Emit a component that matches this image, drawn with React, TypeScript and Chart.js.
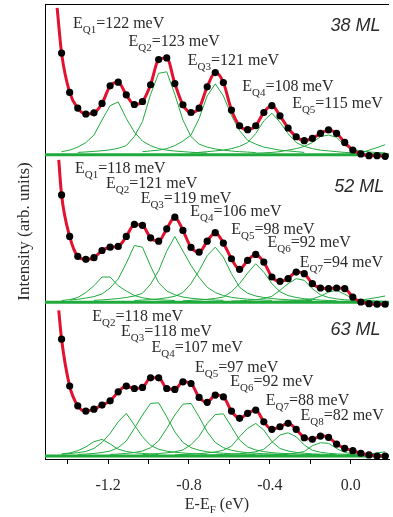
import React, { useEffect, useRef } from 'react';
import { Chart, registerables } from 'chart.js';

Chart.register(...registerables);

// Energy grid (eV) of the measured points
const X = [-1.43, -1.39, -1.35, -1.31, -1.27, -1.23, -1.19, -1.15, -1.11, -1.07, -1.03, -0.99, -0.95, -0.91, -0.87, -0.83, -0.79, -0.75, -0.71, -0.67, -0.63, -0.59, -0.55, -0.51, -0.47, -0.43, -0.39, -0.35, -0.31, -0.27, -0.23, -0.19, -0.15, -0.11, -0.07, -0.03, 0.01, 0.05, 0.09, 0.13, 0.17];

const XMIN = -1.512;
const XMAX = 0.189;
const X_TICKS = [-1.4, -1.2, -1.0, -0.8, -0.6, -0.4, -0.2, 0.0];
const X_LABELLED = [-1.2, -0.8, -0.4, 0.0];

const PANEL_NAMES = ['38 ML', '52 ML', '63 ML'];
const PANEL_OFFSETS = [2.0, 1.02, 0];
const PANEL_NAME_X = [0.147, 0.166, 0.147];
const PANEL_NAME_Y = [82.1, 73.0, 80.1];

// Measured intensities (arb. units, 0 = panel baseline)
const D38 = [67.4, 41.3, 30.9, 27.0, 27.8, 34.0, 45.7, 48.1, 39.7, 33.3, 35.3, 46.4, 63.1, 64.2, 47.2, 33.1, 28.0, 30.9, 45.0, 54.5, 47.9, 29.6, 19.2, 16.6, 19.2, 28.0, 32.6, 25.8, 17.7, 11.9, 9.3, 10.8, 14.1, 16.4, 14.1, 8.1, 3.1, 0.5, -0.7, -0.7, -1.1];
const D52 = [71.3, 43.7, 30.5, 28.5, 29.6, 34.4, 36.6, 37.1, 43.7, 51.7, 51.0, 42.8, 40.6, 48.8, 56.5, 47.7, 36.4, 33.3, 40.6, 46.2, 39.3, 28.9, 21.9, 27.8, 31.8, 26.7, 16.8, 13.9, 15.7, 20.1, 19.0, 12.4, 9.5, 9.1, 9.5, 9.1, 3.5, 0.2, -0.9, -1.3, -1.3];
const D63 = [77.5, 46.4, 33.3, 29.8, 31.1, 33.8, 36.6, 42.6, 46.4, 44.8, 45.5, 51.9, 51.9, 44.8, 44.2, 49.2, 48.1, 38.9, 35.6, 40.4, 39.3, 29.8, 25.0, 28.3, 30.5, 22.7, 17.7, 19.4, 21.7, 17.7, 12.1, 11.1, 13.2, 12.4, 7.9, 5.1, 3.5, 1.8, 0.7, 0, 0];
const DATA = [D38, D52, D63];

// Start of the fit curve (left of the first point)
const FIT_START_X = [-1.452, -1.444, -1.444];
const FIT_START_I = [97.4, 94.5, 96.7];

// Fit components: first grid index + values on the grid
const COMP38 = [
  { from: 0, v: [2, 3, 5, 8, 13, 23, 32.5, 35, 24, 15, 9, 6, 4, 3, 2.4, 2, 1.6, 1.3, 1] },
  { from: 2, v: [1.5, 1.8, 2.2, 2.6, 3.2, 4.2, 6, 12, 22, 40, 54, 55, 40, 23, 12, 7, 5, 3.8, 3, 2.4, 2, 1.7, 1.4] },
  { from: 10, v: [2, 2.5, 3, 4, 6, 9, 13, 24, 39, 47, 39, 26, 16, 9.5, 7, 5, 4, 3, 2.5, 2, 1.5] },
  { from: 16, v: [1, 1.5, 2, 2.5, 3, 4, 5.5, 8, 14, 22.5, 27.5, 21.5, 14, 8, 5.5, 4, 3, 2.5, 2, 1.5, 1.2] },
  { from: 24, v: [1, 1.2, 1.5, 2, 3, 4, 5.5, 8, 12, 13, 11.5, 6, 3.5, 2.5, 1.8, 1.4, 1.2] },
  { from: 35, v: [0, 0.3, 1.2, 3, 4.7, 6.6] },
];
const COMP52 = [
  { from: 0, v: [1.2, 1.8, 3.2, 6.5, 11, 16.8, 16.8, 11, 7.5, 4.5, 3, 2.2, 1.7, 1.4, 1.2] },
  { from: 1, v: [1.5, 2, 2.8, 3.8, 5.5, 9.5, 15.5, 26, 37.7, 36.6, 24, 13, 7.5, 5, 3.5, 2.7, 2.2, 1.8, 1.5, 1.3] },
  { from: 4, v: [1.3, 1.6, 2, 2.5, 3.2, 4.2, 6, 12, 21, 34, 43.7, 34, 24.5, 16.5, 10, 6.5, 4.5, 3.3, 2.6, 2.1, 1.8, 1.5, 1.3] },
  { from: 9, v: [1.2, 1.5, 1.8, 2.3, 3, 4, 6.5, 12.4, 21, 31, 36.6, 30, 19, 10, 6, 4.2, 3.2, 2.5, 2, 1.7, 1.5, 1.3, 1.1] },
  { from: 15, v: [1, 1.3, 1.6, 2, 2.6, 3.5, 7, 12.4, 19.4, 25.6, 20, 12.4, 7, 4.5, 3.2, 2.4, 1.9, 1.5, 1.2, 1] },
  { from: 21, v: [0.8, 1, 1.3, 1.7, 2.5, 4, 8, 12.4, 15.7, 14.6, 9, 5, 3.2, 2.3, 1.7, 1.3, 1, 0.8] },
  { from: 26, v: [0.5, 0.7, 0.9, 1.2, 1.6, 2.3, 4, 6.8, 8, 5.3, 2.5, 1.6, 1.1, 0.8, 0.6] },
  { from: 36, v: [0.3, 1.4, 2.3, 3.2, 4.2] },
];
const COMP63 = [
  { from: 0, v: [1.3, 2, 3.5, 6, 9.5, 11, 8, 4.5, 3, 2.2, 1.7, 1.3, 1] },
  { from: 0, v: [1.2, 1.6, 2.2, 3, 5, 9, 15, 22.7, 28.3, 20.5, 12.8, 7, 4.5, 3.2, 2.5, 2, 1.6, 1.3, 1.1] },
  { from: 2, v: [1, 1.3, 1.7, 2.3, 3.3, 5.5, 10, 18.3, 27.2, 34.9, 35.3, 26, 16, 9, 5.5, 3.8, 2.8, 2.2, 1.8, 1.5, 1.3, 1.1, 1] },
  { from: 6, v: [1, 1.3, 1.7, 2.3, 3.3, 5.5, 10, 18.3, 27.2, 34.4, 34.9, 26, 16, 9, 5.5, 3.8, 2.8, 2.2, 1.8, 1.5, 1.3, 1.1, 1] },
  { from: 10, v: [1, 1.3, 1.6, 2.1, 2.8, 4, 7.5, 13, 21.6, 27.5, 28, 19.4, 10.6, 6, 4, 2.9, 2.2, 1.8, 1.5, 1.3, 1.1, 1, 0.9] },
  { from: 14, v: [0.8, 1, 1.2, 1.5, 2, 2.7, 3.8, 6.5, 12.8, 18.3, 21.6, 17.2, 9.5, 5, 3.3, 2.4, 1.8, 1.4, 1.2, 1, 0.8] },
  { from: 18, v: [0.6, 0.8, 1, 1.2, 1.5, 2, 2.8, 4.5, 9, 13.9, 15.4, 12.8, 7.3, 3.8, 2.5, 1.8, 1.4, 1.1, 0.9, 0.7, 0.6] },
  { from: 24, v: [0.5, 0.6, 0.8, 1, 1.3, 1.9, 3, 6.8, 8.8, 8.4, 5, 2.3, 1.5, 1.1, 0.8, 0.6, 0.5] },
  { from: 36, v: [0.2, 0.6, 1.2, 2, 2.8] },
];
const COMPS = [COMP38, COMP52, COMP63];

// Peak energy labels: [subscript, text, x (eV), y (intensity)]
const LABELS38 = [
  ['Q1', '=122 meV', -1.374, 83.9],
  ['Q2', '=123 meV', -1.099, 72.2],
  ['Q3', '=121 meV', -0.806, 59.6],
  ['Q4', '=108 meV', -0.537, 42.4],
  ['Q5', '=115 meV', -0.29, 31.1],
];
const LABELS52 = [
  ['Q1', '=118 meV', -1.364, 86.1],
  ['Q2', '=121 meV', -1.21, 76.0],
  ['Q3', '=119 meV', -1.039, 66.0],
  ['Q4', '=106 meV', -0.794, 57.2],
  ['Q5', '=98 meV', -0.591, 45.5],
  ['Q6', '=92 meV', -0.412, 36.6],
  ['Q7', '=94 meV', -0.252, 23.4],
];
const LABELS63 = [
  ['Q2', '=118 meV', -1.278, 89.6],
  ['Q3', '=118 meV', -1.136, 79.7],
  ['Q4', '=107 meV', -0.985, 69.1],
  ['Q5', '=97 meV', -0.77, 55.8],
  ['Q6', '=92 meV', -0.596, 46.4],
  ['Q7', '=88 meV', -0.42, 33.8],
  ['Q8', '=82 meV', -0.249, 23.8],
];
const LABELS = [LABELS38, LABELS52, LABELS63];

const RED = '#e3112f';
const GREEN = '#1faa3c';
const TEXT = '#2a2a2a';
const SERIF = '"Liberation Serif", "Times New Roman", serif';
const SANS = '"Liberation Sans", Arial, sans-serif';

function drawSub(ctx: CanvasRenderingContext2D, x: number, y: number, a: string, sub: string, b: string, size: number, subSize: number, drop: number) {
  ctx.font = `${size}px ${SERIF}`;
  ctx.fillText(a, x, y);
  let w = ctx.measureText(a).width;
  ctx.font = `${subSize}px ${SERIF}`;
  ctx.fillText(sub, x + w, y + drop);
  w += ctx.measureText(sub).width;
  ctx.font = `${size}px ${SERIF}`;
  ctx.fillText(b, x + w, y);
}

const textPlugin = {
  id: 'panelText',
  afterDraw(chart: any) {
    const ctx: CanvasRenderingContext2D = chart.ctx;
    const xs = chart.scales.x;
    const ys = chart.scales.y;
    const area = chart.chartArea;
    ctx.save();
    // top frame line
    ctx.strokeStyle = '#000';
    ctx.lineWidth = 1;
    ctx.beginPath();
    ctx.moveTo(area.left, area.top + 0.5);
    ctx.lineTo(area.right, area.top + 0.5);
    ctx.stroke();

    ctx.fillStyle = TEXT;
    ctx.textAlign = 'left';
    ctx.textBaseline = 'alphabetic';
    LABELS.forEach((list, p) => {
      list.forEach((l: any) => {
        const px = xs.getPixelForValue(l[2]);
        const py = ys.getPixelForValue(PANEL_OFFSETS[p] + l[3] / 100);
        drawSub(ctx, px, py, 'E', l[0], l[1], 16, 11, 5);
      });
      ctx.font = `italic 18px ${SANS}`;
      ctx.textAlign = 'right';
      ctx.fillText(PANEL_NAMES[p], xs.getPixelForValue(PANEL_NAME_X[p]), ys.getPixelForValue(PANEL_OFFSETS[p] + PANEL_NAME_Y[p] / 100));
      ctx.textAlign = 'left';
    });

    // x title with subscript
    ctx.font = `16px ${SERIF}`;
    const a = 'E-E', b = ' (eV)';
    let total = ctx.measureText(a).width + ctx.measureText(b).width;
    ctx.font = `11px ${SERIF}`;
    total += ctx.measureText('F').width;
    const cx = (area.left + area.right) / 2;
    drawSub(ctx, cx - total / 2, area.bottom + 50, a, 'F', b, 16, 11, 4);

    // y title
    ctx.translate(29, (area.top + area.bottom) / 2);
    ctx.rotate(-Math.PI / 2);
    ctx.textAlign = 'center';
    ctx.font = `17px ${SERIF}`;
    ctx.fillText('Intensity (arb. units)', 0, 0);
    ctx.restore();
  },
};

export default function App() {
  const ref = useRef<HTMLCanvasElement | null>(null);
  useEffect(() => {
    if (!ref.current) return;
    const datasets: any[] = [];
    DATA.forEach((d, p) => {
      const off = PANEL_OFFSETS[p];
      const pts = X.map((x, i) => ({ x, y: off + d[i] / 100 }));
      datasets.push({
        type: 'line', data: pts, showLine: false, pointRadius: 3.6, pointBackgroundColor: '#000',
        pointBorderWidth: 0, borderColor: '#000', order: 0, clip: false,
      });
      datasets.push({
        type: 'line', data: [{ x: FIT_START_X[p], y: off + FIT_START_I[p] / 100 }, ...pts],
        borderColor: RED, borderWidth: 3, pointRadius: 0, cubicInterpolationMode: 'monotone', order: 1,
      });
      datasets.push({
        type: 'line', data: [{ x: XMIN, y: off }, { x: XMAX, y: off }],
        borderColor: GREEN, borderWidth: 3, pointRadius: 0, order: 2,
      });
      COMPS[p].forEach((c) => {
        datasets.push({
          type: 'line', data: c.v.map((v, j) => ({ x: X[c.from + j], y: off + v / 100 })),
          borderColor: GREEN, borderWidth: 1, pointRadius: 0, tension: 0, order: 3,
        });
      });
    });

    const chart = new Chart(ref.current, {
      type: 'line',
      data: { datasets },
      options: {
        animation: false,
        responsive: false,
        events: [],
        layout: { padding: { top: 3, right: 0, left: 0, bottom: 0 } },
        plugins: { legend: { display: false }, tooltip: { enabled: false } },
        scales: {
          x: {
            type: 'linear', min: XMIN, max: XMAX,
            afterBuildTicks: (s: any) => { s.ticks = X_TICKS.map((v) => ({ value: v })); },
            afterFit: (s: any) => { s.height = 58; },
            ticks: {
              autoSkip: false, maxRotation: 0, padding: 12, color: TEXT,
              font: { family: SERIF, size: 16 },
              callback: (v: any) => (X_LABELLED.some((t) => Math.abs(t - v) < 1e-6) ? Number(v).toFixed(1) : ''),
            },
            grid: { display: true, drawOnChartArea: false, drawTicks: true, tickLength: 5, color: '#000', tickColor: '#000' },
            border: { display: true, color: '#000', width: 1 },
          },
          y: {
            type: 'linear', min: -0.02, max: 3.0,
            afterFit: (s: any) => { s.width = 45; },
            ticks: { display: false },
            grid: { display: false },
            border: { display: true, color: '#000', width: 1 },
          },
        },
      },
      plugins: [textPlugin],
    } as any);
    return () => chart.destroy();
  }, []);
  return (
    <div style={{ position: 'fixed', left: 0, top: 0, width: 393, height: 517, background: '#fff' }}>
      <canvas ref={ref} width={393} height={517} style={{ display: 'block' }} />
    </div>
  );
}
